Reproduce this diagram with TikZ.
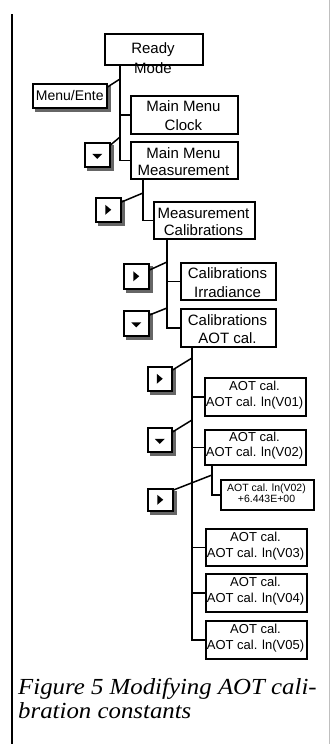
\documentclass[tikz,border=0pt]{standalone}
\usepackage{fontspec}
\setmainfont{Liberation Serif}
\setsansfont{Liberation Sans}
\usetikzlibrary{calc}
\pgfdeclarelayer{bg}
\pgfsetlayers{bg,main}
\begin{document}
\begin{tikzpicture}[x=1pt,y=-1pt,
  box/.style={draw, line width=1.5pt, fill=white, inner sep=0pt, anchor=north west},
  btn/.style={box, minimum width=25pt, minimum height=24pt},
  shade/.style={fill=black!60},
  tri/.style={fill=black},
  lbl/.style={font=\sffamily\fontsize{15}{18}\selectfont, align=center, inner sep=0pt},
  vlbl/.style={font=\sffamily\fontsize{13}{16}\selectfont, align=center, inner sep=0pt},
  tlbl/.style={font=\sffamily\fontsize{10.5}{11}\selectfont, align=center, inner sep=0pt},
  link/.style={line width=1.5pt},
  captext/.style={font=\itshape\fontsize{23}{24}\selectfont, inner sep=0pt, anchor=base west}
]
\useasboundingbox (0,0) rectangle (331,744);
\begin{pgfonlayer}{bg}
\fill[white] (0,0) rectangle (331,744);
\end{pgfonlayer}
% frame lines
\draw[line width=2pt] (12,14) -- (12,744);
\draw[black!25, line width=0.8pt] (329,0) -- (329,744);

% boxes
\node[box, minimum width=98pt, minimum height=31pt] (ready) at (104,33) {};
\node[lbl, font=\sffamily\fontsize{15}{20}\selectfont] (readyt) at (153,58) {Ready\\Mode};
\node[box, minimum width=74pt, minimum height=24pt] (menu) at (32,83) {};
\node[lbl, font=\sffamily\fontsize{14}{16}\selectfont] (menut) at (menu.center) {Menu/Ente};
\node[box, minimum width=107pt, minimum height=38pt] (clock) at (130,95) {};
\node[lbl, font=\sffamily\fontsize{15}{19}\selectfont] (clockt) at (183.5,116) {Main Menu\\Clock};
\node[box, minimum width=107pt, minimum height=37pt] (measm) at (130,141) {};
\node[lbl, font=\sffamily\fontsize{15}{17}\selectfont] (measmt) at (183.5,162) {Main Menu\\Measurement};
\node[box, minimum width=101pt, minimum height=37pt] (measc) at (153,201) {};
\node[lbl, font=\sffamily\fontsize{15}{17}\selectfont] (measct) at (203.5,222) {Measurement\\Calibrations};
\node[box, minimum width=95pt, minimum height=37pt] (irr) at (180,262) {};
\node[lbl, font=\sffamily\fontsize{15}{19}\selectfont] (irrt) at (227.5,283) {Calibrations\\Irradiance};
\node[box, minimum width=95pt, minimum height=38pt] (aotcal) at (180,308) {};
\node[lbl, font=\sffamily\fontsize{15}{18}\selectfont] (aotcalt) at (227.5,329.5) {Calibrations\\AOT cal.};
\node[box, minimum width=101pt, minimum height=38pt] (v01) at (204,377) {};
\node[vlbl] (v01t) at (254.5,395) {AOT cal.\\AOT cal. ln(V01)};
\node[box, minimum width=101pt, minimum height=35pt] (v02) at (204,429) {};
\node[vlbl, font=\sffamily\fontsize{13}{15}\selectfont] (v02t) at (254.5,446) {AOT cal.\\AOT cal. ln(V02)};
\node[box, minimum width=93pt, minimum height=30pt] (small) at (220,479) {};
\node[tlbl] (smallt) at (266.5,493.5) {AOT cal. ln(V02)\\+6.443E+00};
\node[box, minimum width=101pt, minimum height=37pt] (v03) at (205,528) {};
\node[vlbl] (v03t) at (255.5,546.5) {AOT cal.\\AOT cal. ln(V03)};
\node[box, minimum width=101pt, minimum height=38pt] (v04) at (205,573) {};
\node[vlbl] (v04t) at (255.5,591) {AOT cal.\\AOT cal. ln(V04)};
\node[box, minimum width=101pt, minimum height=38pt] (v05) at (205,620) {};
\node[vlbl] (v05t) at (255.5,638.5) {AOT cal.\\AOT cal. ln(V05)};

% buttons
\node[btn] (d1) at (84,142) {};
\node[btn] (r1) at (95,197) {};
\node[btn, minimum height=25pt] (r2) at (123,263) {};
\node[btn, minimum height=25pt] (d2) at (123,310) {};
\node[btn, minimum width=24pt] (r3) at (147,366) {};
\node[btn, minimum width=24pt] (d3) at (147,427) {};
\node[btn, minimum height=22pt] (r4) at (147,488) {};

% shadows behind keys
\begin{pgfonlayer}{bg}
\foreach \k in {menu,d1,r1,r2,d2,r3,d3,r4}
  \fill[shade] ($(\k.south west)+(3,3)$) rectangle ($(\k.north east)+(3,3)$);
\end{pgfonlayer}

% key symbols
\foreach \k in {d1,d2,d3}
  \fill[tri] ($(\k.center)+(-5,-1)$) -- ++(10,0) -- ++(-5,5) -- cycle;
\foreach \k in {r1,r2,r3,r4}
  \fill[tri] ($(\k.center)+(-3,-5)$) -- ++(6,5) -- ++(-6,5) -- cycle;

% junctions on trunks
\coordinate (j1) at (120,79);
\coordinate (j2) at (120,137);
\coordinate (j3) at (143,193);
\coordinate (j4) at (167,262);
\coordinate (j5) at (167,308);
\coordinate (j6) at (192,358);
\coordinate (j7) at (192,420);
\coordinate (j8) at (212,475);

% trunks
\draw[link] (ready.south -| j1) |- (measm.west);
\draw[link] (j1 |- clock.west) -- (clock.west);
\draw[link] (measm.south -| j3) |- (measc.west);
\draw[link] (measc.south -| j4) |- (aotcal.west);
\draw[link] (j4 |- irr.west) -- (irr.west);
\draw[link] (aotcal.south -| j6) |- (v05.west);
\draw[link] (j6 |- v01.west) -- (v01.west);
\draw[link] (j6 |- v02.west) -- (v02.west);
\draw[link] (j6 |- v03.west) -- (v03.west);
\draw[link] (j6 |- v04.west) -- (v04.west);
\draw[link] (v02.south -| j8) |- (small.west);

% key links
\draw[link] ([yshift=-4pt]menu.north east) -- (j1);
\draw[link] ([yshift=-3pt]d1.north east) -- (j2);
\draw[link] ([yshift=-5pt]r1.north east) -- (j3);
\draw[link] ([yshift=-7pt]r2.north east) -- (j4);
\draw[link] ([yshift=-5pt]d2.north east) -- (j5);
\draw[link] ([yshift=-4pt]r3.north east) -- (j6);
\draw[link] ([yshift=-5pt]d3.north east) -- (j7);
\draw[link] ([yshift=-2pt]r4.north east) -- (j8);

% caption
\node[captext] (cap1) at (18,694) {\scalebox{1.08}[1]{Figure 5 Modifying AOT cali-}};
\node[captext] (cap2) at (18,718) {\scalebox{1.08}[1]{bration constants}};
\end{tikzpicture}
\end{document}
